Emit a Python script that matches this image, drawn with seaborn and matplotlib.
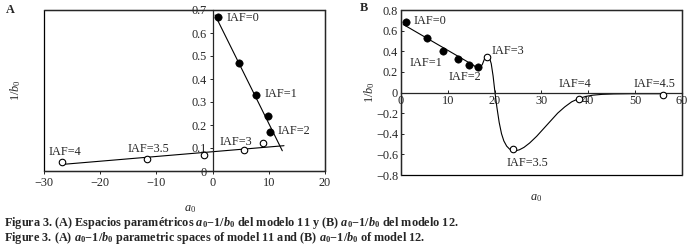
import numpy as np
import pandas as pd
import seaborn as sns
import matplotlib.pyplot as plt
from matplotlib.patches import Rectangle

# Panel A: model 11
a_filled_x = [0.9, 4.75, 7.7, 9.8, 10.2]
a_filled_y = [0.668, 0.468, 0.332, 0.239, 0.168]
a_open_x = [-26.85, -11.7, -1.5, 5.5, 9.0]
a_open_y = [0.038, 0.051, 0.068, 0.091, 0.123]
a_fit1_x = [0.43, 12.4]
a_fit1_y = [0.678, 0.088]
a_fit2_x = [-26.6, 12.7]
a_fit2_y = [0.029, 0.110]
a_labels = ["IAF=0", "IAF=1", "IAF=2", "IAF=3", "IAF=3.5", "IAF=4"]
a_label_x = [2.5, 9.15, 11.5, 1.2, -15.1, -29.3]
a_label_y = [0.664, 0.335, 0.174, 0.127, 0.094, 0.081]

# Panel B: model 12
b_filled_x = [1.07, 5.5, 9.0, 12.2, 14.5, 16.4]
b_filled_y = [0.686, 0.532, 0.398, 0.326, 0.268, 0.251]
b_open_x = [18.5, 24.0, 38.0, 56.0]
b_open_y = [0.349, -0.549, -0.059, -0.02]
b_curve_x = [0.5, 15.6, 16.2, 16.8, 17.4, 17.9, 18.4, 18.9, 19.3, 19.7, 20.1, 20.5,
             21.0, 21.5, 22.0, 22.6, 23.2, 23.8, 24.5, 25.3, 26.3, 27.5, 29.0, 30.5,
             32.0, 33.5, 35.0, 36.5, 38.0, 39.5, 41.0, 43.0, 45.5, 49.0, 56.0]
b_curve_y = [0.66, 0.262, 0.235, 0.232, 0.272, 0.33, 0.355, 0.34, 0.28, 0.16, 0.0, -0.14,
             -0.29, -0.40, -0.47, -0.52, -0.548, -0.562, -0.565, -0.556, -0.532, -0.49,
             -0.425, -0.35, -0.275, -0.20, -0.14, -0.09, -0.059, -0.038, -0.026, -0.018,
             -0.014, -0.012, -0.012]
b_labels = ["IAF=0", "IAF=1", "IAF=2", "IAF=3", "IAF=3.5", "IAF=4", "IAF=4.5"]
b_label_x = [2.6, 1.9, 10.1, 19.4, 22.6, 33.6, 49.6]
b_label_y = [0.69, 0.29, 0.147, 0.405, -0.68, 0.08, 0.08]

sns.set_theme(style="ticks")
plt.rcParams['font.family'] = ['Liberation Serif', 'DejaVu Serif']
plt.rcParams['mathtext.fontset'] = 'custom'
plt.rcParams['mathtext.rm'] = 'Liberation Serif'
plt.rcParams['mathtext.it'] = 'Liberation Serif:italic'
plt.rcParams['mathtext.bf'] = 'Liberation Serif:bold'
plt.rcParams['mathtext.bfit'] = 'Liberation Serif:italic:bold'
fs = 8.8

fig = plt.figure(figsize=(6.9, 2.5), dpi=100)
axA = fig.add_axes([0.064, 0.316, 0.407, 0.644])
axB = fig.add_axes([0.581, 0.30, 0.407, 0.66])

lw = 0.8
# ----- Panel A
sns.lineplot(x=a_fit1_x, y=a_fit1_y, ax=axA, color='black', lw=lw)
sns.lineplot(x=a_fit2_x, y=a_fit2_y, ax=axA, color='black', lw=lw)
sns.scatterplot(x=a_filled_x, y=a_filled_y, ax=axA, color='black', s=28,
                edgecolor='black', zorder=3)
sns.scatterplot(x=a_open_x, y=a_open_y, ax=axA, color='white', s=22,
                edgecolor='black', linewidth=0.8, zorder=3)
for t, x, y in zip(a_labels, a_label_x, a_label_y):
    axA.text(x, y, t, fontsize=fs, va='center', ha='left')
axA.set_xlim(-30, 20)
axA.set_ylim(0, 0.7)
axA.set_xticks([-30, -20, -10, 0, 10, 20])
axA.set_yticks(np.arange(0, 0.71, 0.1))
axA.set_yticklabels(['0', '0.1', '0.2', '0.3', '0.4', '0.5', '0.6', '0.7'])
axA.spines['left'].set_position(('data', 0))
for s in axA.spines.values():
    s.set_linewidth(0.9)
axA.add_patch(Rectangle((0, 0), 1, 1, transform=axA.transAxes, fill=False,
                        lw=0.9, color='black', clip_on=False))
axA.tick_params(labelsize=fs, length=2.5, width=0.7, pad=1.5)
axA.set_xlabel('$a_0$', fontsize=fs)
axA.xaxis.set_label_coords(0.52, -0.2)
axA.set_ylabel('$1/b_0$', fontsize=fs)
axA.yaxis.set_label_coords(-0.075, 0.5)
axA.text(-0.135, 1.0, 'A', transform=axA.transAxes, fontsize=fs,
         fontweight='bold', va='center')

# ----- Panel B
sns.lineplot(x=b_curve_x, y=b_curve_y, ax=axB, color='black', lw=lw, sort=False)
sns.scatterplot(x=b_filled_x, y=b_filled_y, ax=axB, color='black', s=28,
                edgecolor='black', zorder=3)
sns.scatterplot(x=b_open_x, y=b_open_y, ax=axB, color='white', s=22,
                edgecolor='black', linewidth=0.8, zorder=3)
for t, x, y in zip(b_labels, b_label_x, b_label_y):
    axB.text(x, y, t, fontsize=fs, va='center', ha='left')
axB.set_xlim(0, 60)
axB.set_ylim(-0.8, 0.8)
axB.set_xticks([0, 10, 20, 30, 40, 50, 60])
axB.set_yticks(np.arange(-0.8, 0.81, 0.2))
axB.set_yticklabels(['\u22120.8', '\u22120.6', '\u22120.4', '\u22120.2', '0',
                     '0.2', '0.4', '0.6', '0.8'])
axB.spines['bottom'].set_position(('data', 0))
for s in axB.spines.values():
    s.set_linewidth(0.9)
axB.add_patch(Rectangle((0, 0), 1, 1, transform=axB.transAxes, fill=False,
                        lw=0.9, color='black', clip_on=False))
axB.tick_params(axis='x', direction='in', labelsize=fs, length=2.5, width=0.7, pad=2)
axB.tick_params(axis='y', direction='in', labelsize=fs, length=2.5, width=0.7, pad=2)
axB.set_xlabel('$a_0$', fontsize=fs)
axB.xaxis.set_label_coords(0.48, -0.1)
axB.set_ylabel('$1/b_0$', fontsize=fs)
axB.yaxis.set_label_coords(-0.085, 0.5)
axB.text(-0.145, 1.01, 'B', transform=axB.transAxes, fontsize=fs,
         fontweight='bold', va='center')

cap1 = (r"Figura 3. (A) Espacios paramétricos $\mathbfit{a}_\mathbf{0}\mathbf{-1/}\mathbfit{b}_\mathbf{0}$"
        r" del modelo 11 y (B) $\mathbfit{a}_\mathbf{0}\mathbf{-1/}\mathbfit{b}_\mathbf{0}$ del modelo 12.")
cap2 = (r"Figure 3. (A) $\mathbfit{a}_\mathbf{0}\mathbf{-1/}\mathbfit{b}_\mathbf{0}$ parametric spaces of"
        r" model 11 and (B) $\mathbfit{a}_\mathbf{0}\mathbf{-1/}\mathbfit{b}_\mathbf{0}$ of model 12.")
fig.text(0.006, 0.108, cap1, fontsize=fs, fontweight='bold', va='center')
fig.text(0.006, 0.050, cap2, fontsize=fs, fontweight='bold', va='center')

fig.savefig('out.png', dpi=100)
